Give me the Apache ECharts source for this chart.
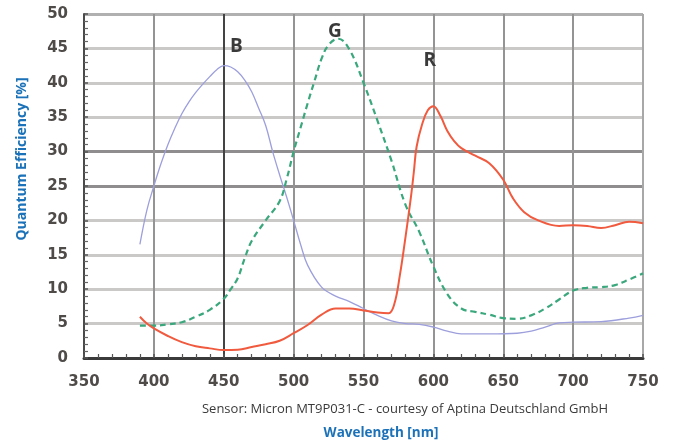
<!DOCTYPE html>
<html>
<head>
<meta charset="utf-8">
<script src="https://cdn.jsdelivr.net/npm/echarts@6/dist/echarts.min.js"></script>
<style>
html,body{margin:0;padding:0;background:#fff;}
#c{width:673px;height:441px;}
</style>
</head>
<body>
<div id="c"></div>
<script>
// ---- data ----
const xTicks = [350, 400, 450, 500, 550, 600, 650, 700, 750];
const yTicks = [0, 5, 10, 15, 20, 25, 30, 35, 40, 45, 50];

const blueWl = [390,395,400,405,410,415,420,425,430,435,440,445,450,455,460,465,470,475,480,485,490,495,500,505,510,520,530,540,550,560,570,580,590,600,610,620,640,660,670,680,690,700,720,740,750];
const blueQE = [16.5,21.5,25,28.2,31,33.4,35.5,37.2,38.6,39.8,40.9,41.9,42.5,42.3,41.6,40.4,38.7,36.3,33.8,30,26.6,23.4,20,16.5,13.5,10.3,9,8.2,7.2,6.2,5.4,5.0,4.9,4.5,3.9,3.5,3.5,3.6,3.9,4.5,5.1,5.2,5.3,5.8,6.2];

const greenWl = [390,400,410,420,430,440,450,455,460,465,470,480,490,495,500,505,510,515,520,525,532,540,550,560,570,580,590,600,610,620,630,640,650,660,670,680,690,700,710,720,730,740,750];
const greenQE = [4.7,4.7,4.9,5.2,6.0,7.0,8.6,10,11.6,14.5,17,20,22.8,26,30,33.5,37,40.3,43.5,45.5,46.4,44.8,40,34.5,28.7,22.3,18.3,13.3,9.3,7.2,6.7,6.3,5.8,5.7,6.2,7.2,8.5,9.8,10.2,10.3,10.6,11.4,12.3];

const redWl = [390,395,400,410,420,430,440,450,460,470,480,490,500,510,520,530,540,550,560,568,572,576,580,584,586,588,592,596,600,605,610,615,620,630,640,650,657,665,675,690,700,710,720,730,740,750];
const redQE = [6.0,5.0,4.3,3.2,2.3,1.7,1.4,1.15,1.2,1.6,2.0,2.5,3.6,4.8,6.3,7.2,7.2,6.9,6.6,6.5,7.8,12,17.5,23.5,27,30.7,34,36,36.6,35.2,33,31.5,30.5,29.4,28.3,25.9,23.2,21.2,20,19.2,19.3,19.2,18.9,19.3,19.8,19.6];

const curveLabels = [
  {name: 'B', wl: 459, qe: 45.3},
  {name: 'G', wl: 529.5, qe: 47.5},
  {name: 'R', wl: 597.5, qe: 43.2}
];

const pairs = (xs, ys) => xs.map((x, i) => [x, ys[i]]);

const chart = echarts.init(document.getElementById('c'));
const tickFont = {fontFamily: 'DejaVu Sans', fontWeight: 'bold', fontSize: 15, color: '#4e4b49'};
const letterLabel = (l) => ({
  symbol: 'circle', symbolSize: 0,
  label: {show: true, position: 'inside', formatter: l.name, fontFamily: 'Open Sans', fontWeight: 'bold', fontSize: 19, color: '#3a3a3a'},
  data: [{coord: [l.wl, l.qe]}]
});

chart.setOption({
  animation: false,
  grid: {left: 84, right: 30, top: 14, bottom: 83},
  xAxis: {
    type: 'value', min: xTicks[0], max: xTicks[xTicks.length-1], interval: 50,
    axisLine: {show: true, onZero: false, lineStyle: {color: '#3a3a3a', width: 3}},
    axisTick: {show: true, inside: true, length: 4, lineStyle: {color: '#555', width: 1.5}},
    minorTick: {show: true, splitNumber: 5, length: 4, lineStyle: {color: '#555', width: 1.2}},
    axisLabel: Object.assign({margin: 17}, tickFont),
    splitLine: {show: true, lineStyle: {width: 2, color: ['#555', '#949494', '#444', '#949494', '#949494', '#949494', '#949494', '#949494', '#a8a8a8']}}
  },
  yAxis: {
    type: 'value', min: yTicks[0], max: yTicks[yTicks.length-1], interval: 5,
    axisLine: {show: true, lineStyle: {color: '#4a4a4a', width: 2}},
    axisTick: {show: true, inside: true, length: 4, lineStyle: {color: '#555', width: 1.5}},
    minorTick: {show: true, splitNumber: 5, length: 4, lineStyle: {color: '#666', width: 1.2}},
    axisLabel: Object.assign({margin: 16}, tickFont),
    splitLine: {show: true, lineStyle: {width: 3, color: ['#555', '#cbc8c8', '#cbc8c8', '#cbc8c8', '#cbc8c8', '#8f8d8d', '#8f8d8d', '#cbc8c8', '#cbc8c8', '#cbc8c8', '#b0b0b0']}}
  },
  series: [
    {
      name: 'B', type: 'line', smooth: 0.4, showSymbol: false,
      lineStyle: {color: '#9d9fdc', width: 1.3},
      data: pairs(blueWl, blueQE),
      markPoint: letterLabel(curveLabels[0])
    },
    {
      name: 'G', type: 'line', smooth: 0.4, showSymbol: false,
      lineStyle: {color: '#3ba77d', width: 2.2, type: [6, 4]},
      data: pairs(greenWl, greenQE),
      markPoint: letterLabel(curveLabels[1])
    },
    {
      name: 'R', type: 'line', smooth: 0.4, showSymbol: false,
      lineStyle: {color: '#f05a3e', width: 2},
      data: pairs(redWl, redQE),
      markPoint: letterLabel(curveLabels[2])
    }
  ],
  graphic: [
    {type: 'text', x: 405, y: 409, style: {text: 'Sensor: Micron MT9P031-C - courtesy of Aptina Deutschland GmbH', fontFamily: 'Open Sans', fontSize: 13, fill: '#3a3a3a', align: 'center', verticalAlign: 'middle'}},
    {type: 'text', x: 381, y: 433, style: {text: 'Wavelength [nm]', fontFamily: 'Open Sans', fontWeight: 'bold', fontSize: 13.5, fill: '#1b72b8', align: 'center', verticalAlign: 'middle'}},
    {type: 'text', x: 22, y: 159, rotation: Math.PI/2, style: {text: 'Quantum Efficiency [%]', fontFamily: 'Open Sans', fontWeight: 'bold', fontSize: 14, fill: '#1b72b8', align: 'center', verticalAlign: 'middle'}}
  ]
});
</script>
</body>
</html>
